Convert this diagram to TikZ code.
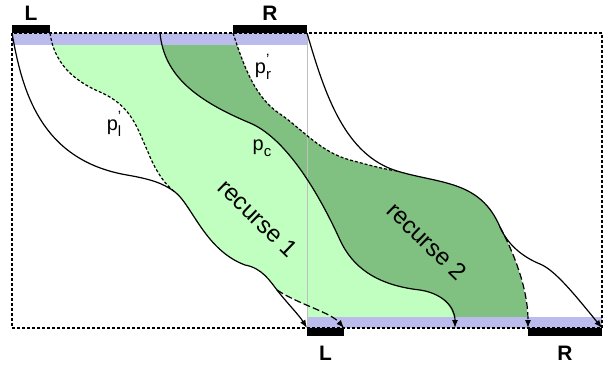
\documentclass[tikz,border=0pt]{standalone}
\usepackage{fontspec}
\setmainfont{Liberation Sans}
\usetikzlibrary{arrows.meta,positioning}
\definecolor{regionlight}{RGB}{192,255,192}
\definecolor{regiondark}{RGB}{128,192,128}
\definecolor{bandlavender}{RGB}{187,187,238}
\newcommand{\pathlabel}[2]{p\rlap{\raisebox{0.42em}{\fontsize{15}{15}\selectfont #1}}\raisebox{-0.3em}{\fontsize{15}{15}\selectfont #2}}

\begin{document}
\begin{tikzpicture}[x=1bp,y=-1bp,line join=round,
    bar/.style={fill=black,inner sep=0pt,outer sep=0pt,minimum height=8bp},
    endlabel/.style={font=\fontsize{21}{24}\selectfont\bfseries,inner sep=1bp},
    boxline/.style={line width=1.1bp,dash pattern=on 3bp off 2bp},
    solidpath/.style={line width=1.2bp},
    guesspath/.style={line width=1.2bp,dash pattern=on 3bp off 2bp},
    branchpath/.style={line width=1.2bp,dash pattern=on 7bp off 3bp},
    tip/.style={-{Latex[length=8bp,width=6bp]}},
    pathtext/.style={font=\fontsize{20}{22}\selectfont,inner sep=0pt},
    regiontext/.style={font=\fontsize{24}{26}\selectfont,inner sep=0pt,rotate=-44}]
  \useasboundingbox (0,0) rectangle (608,373);

  \coordinate (boxNW) at (12,33);
  \coordinate (boxSE) at (602,328);
  \coordinate (pl0) at (50,33);
  \coordinate (pc0) at (160,33);
  \coordinate (pr0) at (233,33);
  \coordinate (midN) at (307,33);
  \coordinate (midS) at (307,328);
  \coordinate (plEnd) at (344,328);
  \coordinate (pcEnd) at (455,328);
  \coordinate (prEnd) at (528,328);

  \coordinate (l1) at (100,92);
  \coordinate (l2) at (148,152);
  \coordinate (a1) at (127,175);
  \coordinate (a2) at (175,192);
  \coordinate (a3) at (245,265);
  \coordinate (a4) at (277,290);
  \coordinate (c1) at (250,123);
  \coordinate (c2) at (340,240);
  \coordinate (c3) at (420,290);
  \coordinate (r1) at (280,114);
  \coordinate (r2) at (350,160);
  \coordinate (b1) at (397,171);
  \coordinate (b2) at (500,227);
  \coordinate (b3) at (540,264);

  \fill[regionlight] (pl0) .. controls (54,62) and (72,80) .. (l1)
    .. controls (132,106) and (137,128) .. (l2)
    .. controls (155,170) and (165,185) .. (a2)
    .. controls (192,205) and (205,250) .. (a3)
    .. controls (262,268) and (270,281) .. (a4)
    .. controls (300,305) and (330,312) .. (plEnd) -- (pcEnd)
    .. controls (455,305) and (440,293) .. (c3)
    .. controls (375,285) and (352,266) .. (c2)
    .. controls (315,185) and (283,137) .. (c1)
    .. controls (195,100) and (164,75) .. (pc0) -- cycle;
  \fill[regionlight] (307,295) rectangle (345,317);
  \fill[regiondark] (pc0) .. controls (164,75) and (195,100) .. (c1)
    .. controls (283,137) and (315,185) .. (c2)
    .. controls (352,266) and (375,285) .. (c3)
    .. controls (440,293) and (455,305) .. (pcEnd) -- (prEnd)
    .. controls (528,290) and (515,255) .. (b2)
    .. controls (480,180) and (440,184) .. (b1)
    .. controls (383,169) and (365,164) .. (r2)
    .. controls (320,152) and (301,128) .. (r1)
    .. controls (256,98) and (245,70) .. (pr0) -- cycle;

  \fill[bandlavender] (boxNW) rectangle (307,44.5);
  \fill[bandlavender] (307,317) rectangle (boxSE);
  \draw[gray!50,line width=0.8bp] (midN) -- (midS);
  \draw[boxline] (boxNW) rectangle (boxSE);

  \node[bar,minimum width=38bp,anchor=south west] (topL) at (boxNW) {};
  \node[bar,minimum width=74bp,anchor=south east] (topR) at (midN) {};
  \node[bar,minimum width=37bp,anchor=north west] (botL) at (midS) {};
  \node[bar,minimum width=74bp,anchor=north east] (botR) at (boxSE) {};
  \node[endlabel,above=3.5bp of topL] (topLlabel) {L};
  \node[endlabel,above=3.5bp of topR] (topRlabel) {R};
  \node[endlabel,below=8.5bp of botL] (botLlabel) {L};
  \node[endlabel,below=8.5bp of botR] (botRlabel) {R};

  \draw[solidpath,tip] (topL.south west) .. controls (22,90) and (40,160) .. (a1)
    .. controls (150,179) and (163,183) .. (a2)
    .. controls (192,205) and (205,250) .. (a3)
    .. controls (262,268) and (270,281) .. (a4)
    .. controls (287,303) and (299,315) .. (botL.north west);
  \draw[branchpath,tip] (a4) .. controls (300,305) and (330,312) .. (botL.north east);
  \draw[guesspath] (topL.south east) .. controls (54,62) and (72,80) .. (l1)
    .. controls (132,106) and (137,128) .. (l2)
    .. controls (155,170) and (165,185) .. (a2);
  \draw[solidpath,tip] (pc0) .. controls (164,75) and (195,100) .. (c1)
    .. controls (283,137) and (315,185) .. (c2)
    .. controls (352,266) and (375,285) .. (c3)
    .. controls (440,293) and (455,305) .. (pcEnd);
  \draw[guesspath] (topR.south west) .. controls (245,70) and (256,98) .. (r1)
    .. controls (301,128) and (320,152) .. (r2)
    .. controls (365,164) and (383,169) .. (b1);
  \draw[solidpath,tip] (topR.south east) .. controls (325,95) and (345,155) .. (b1)
    .. controls (440,184) and (480,180) .. (b2)
    .. controls (508,246) and (525,258) .. (b3)
    .. controls (555,270) and (575,295) .. (botR.north east);
  \draw[branchpath,tip] (b2) .. controls (515,255) and (528,290) .. (botR.north west);

  \node[pathtext] (plLabel) at (114,124) {\pathlabel{’}{l}};
  \node[pathtext] (prLabel) at (263,67) {\pathlabel{’}{r}};
  \node[pathtext] (pcLabel) at (262,148) {\pathlabel{}{c}};
  \node[regiontext] (recOne) at (258,218) {recurse 1};
  \node[regiontext] (recTwo) at (427,241) {recurse 2};
\end{tikzpicture}
\end{document}
